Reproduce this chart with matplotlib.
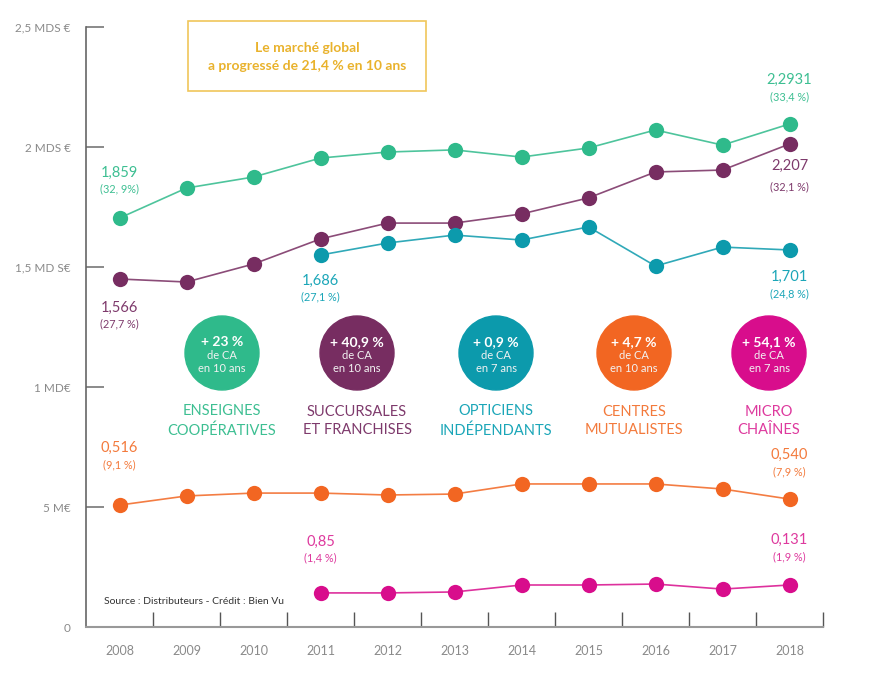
import matplotlib
matplotlib.use("Agg")
import matplotlib.pyplot as plt
from matplotlib.patches import Circle, Rectangle

plt.rcParams['font.family'] = ['Lato', 'DejaVu Sans']

years = list(range(2008, 2019))

# values as placed on the chart's own scale (milliards d'euros)
coop = [1.704, 1.829, 1.875, 1.954, 1.979, 1.988, 1.958, 1.996, 2.071, 2.008, 2.096]
succ = [1.450, 1.4375, 1.5125, 1.617, 1.683, 1.683, 1.721, 1.788, 1.896, 1.904, 2.0125]
opt = [None, None, None, 1.55, 1.60, 1.633, 1.6125, 1.667, 1.504, 1.583, 1.571]
centres = [0.508, 0.546, 0.558, 0.558, 0.550, 0.554, 0.596, 0.596, 0.596, 0.575, 0.533]
micro = [None, None, None, 0.142, 0.142, 0.146, 0.175, 0.175, 0.179, 0.158, 0.175]

ytick_vals = [0, 0.5, 1, 1.5, 2, 2.5]
ytick_labels = ["0", "5 M€", "1 MD€", "1,5 MD S€", "2 MDS €", "2,5 MDS €"]

names = ["ENSEIGNES\nCOOPÉRATIVES", "SUCCURSALES\nET FRANCHISES", "OPTICIENS\nINDÉPENDANTS",
         "CENTRES\nMUTUALISTES", "MICRO\nCHAÎNES"]
growth = ["+ 23 %", "+ 40,9 %", "+ 0,9 %", "+ 4,7 %", "+ 54,1 %"]
periods = ["en 10 ans", "en 10 ans", "en 7 ans", "en 10 ans", "en 7 ans"]

colors = ["#2fba8b", "#772d61", "#0c9aac", "#f26622", "#d80d8c"]
text_colors = ["#3dbf92", "#7e3a6c", "#1ba6b8", "#f37a3c", "#de3a9e"]
series = [coop, succ, opt, centres, micro]

# (series index, year, value, share, dy value px, dy share px)
notes = [
    (0, 2008, "1,859", "(32, 9%)", 45, 29),
    (1, 2008, "1,566", "(27,7 %)", -29, -45),
    (2, 2011, "1,686", "(27,1 %)", -26, -42),
    (0, 2018, "2,2931", "(33,4 %)", 44, 27),
    (1, 2018, "2,207", "(32,1 %)", -22, -43),
    (2, 2018, "1,701", "(24,8 %)", -27, -44),
    (3, 2008, "0,516", "(9,1 %)", 57, 40),
    (3, 2018, "0,540", "(7,9 %)", 44, 27),
    (4, 2011, "0,85", "(1,4 %)", 51, 35),
    (4, 2018, "0,131", "(1,9 %)", 45, 28),
]

fig = plt.figure(figsize=(8.72, 6.81), dpi=100)
ax = fig.add_axes([86 / 872, 54 / 681, 737 / 872, 600 / 681])
ax.set_xlim(2007.5, 2018.5)
ax.set_ylim(0, 2.5)

for s, c in zip(series, colors):
    xs = [y for y, v in zip(years, s) if v is not None]
    vs = [v for v in s if v is not None]
    ax.plot(xs, vs, color=c, lw=1.2, alpha=0.85, zorder=2)
    ax.plot(xs, vs, 'o', color=c, ms=11, mec='none', zorder=3)

for i, yr, val, share, dv, ds in notes:
    v = series[i][years.index(yr)]
    ax.annotate(val, xy=(yr, v), xytext=(0, dv), textcoords='offset pixels',
                ha='center', va='center', fontsize=10.5, color=text_colors[i])
    ax.annotate(share, xy=(yr, v), xytext=(0, ds), textcoords='offset pixels',
                ha='center', va='center', fontsize=7.8, color=text_colors[i])

# axes styling
for side in ['top', 'right']:
    ax.spines[side].set_visible(False)
ax.spines['left'].set_color('#666666')
ax.spines['left'].set_linewidth(1.2)
ax.spines['bottom'].set_color('#999999')
ax.spines['bottom'].set_linewidth(1.5)

ax.set_yticks(ytick_vals)
ax.set_yticklabels(ytick_labels)
ax.tick_params(axis='y', direction='in', length=13, width=1.2, color='#777777',
               labelsize=8.5, labelcolor='#8a8a8a', pad=11)

ax.set_xticks([y + 0.5 for y in years])
ax.set_xticklabels([])
ax.tick_params(axis='x', direction='in', length=11, width=1, color='#555555')
for y in years:
    ax.text(y, -0.1, str(y), ha='center', va='center', fontsize=9, color='#8a8a8a')

# summary circles
circle_x = [222, 357, 496, 634, 769]
for cx, c, tc, g, p, n in zip(circle_x, colors, text_colors, growth, periods, names):
    fig.patches.append(Circle((cx / 100, (681 - 353) / 100), 0.37, transform=fig.dpi_scale_trans,
                              color=c, zorder=1))
    fig.text(cx / 872, 1 - 342 / 681, g, ha='center', va='center', fontsize=10,
             fontweight='bold', color='white')
    fig.text(cx / 872, 1 - 356 / 681, "de CA", ha='center', va='center', fontsize=8, color='#f2f2f2')
    fig.text(cx / 872, 1 - 369 / 681, p, ha='center', va='center', fontsize=8, color='#f2f2f2')
    fig.text(cx / 872, 1 - 421 / 681, n, ha='center', va='center', fontsize=10.5,
             color=tc, linespacing=1.45)

# headline box
fig.patches.append(Rectangle((188 / 872, 1 - 91 / 681), 238 / 872, 70 / 681,
                             transform=fig.transFigure, fill=False, ec='#f0c65a', lw=1.2))
fig.text(307 / 872, 1 - 57 / 681, "Le marché global\na progressé de 21,4 % en 10 ans",
         ha='center', va='center', fontsize=10, fontweight='bold', color='#e9b22c',
         linespacing=1.55)

fig.text(104 / 872, 1 - 601 / 681, "Source : Distributeurs - Crédit : Bien Vu",
         ha='left', va='center', fontsize=7.5, color='#333333')

fig.savefig("out.png", dpi=100)
